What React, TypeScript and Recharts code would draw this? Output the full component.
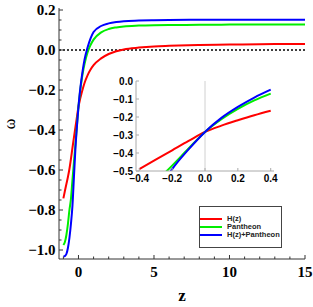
import { LineChart, Line, XAxis, YAxis, ReferenceLine, Legend } from 'recharts'

// redshift samples and equation of state
const zValues = [-1, -0.9, -0.8, -0.7, -0.6, -0.5, -0.4, -0.3, -0.2, -0.1, 0, 0.1, 0.2, 0.3, 0.4, 0.6, 0.8, 1, 1.5, 2, 2.5, 3, 4, 5, 6, 8, 10, 12, 15]
const omegaHz = [-0.742, -0.705, -0.67, -0.635, -0.595, -0.545, -0.49, -0.437, -0.385, -0.333, -0.283, -0.248, -0.218, -0.19, -0.165, -0.127, -0.098, -0.076, -0.042, -0.02, -0.006, 0.003, 0.012, 0.018, 0.021, 0.025, 0.027, 0.029, 0.03]
const omegaPantheon = [-0.975, -0.96, -0.925, -0.87, -0.8, -0.745, -0.65, -0.56, -0.47, -0.375, -0.283, -0.212, -0.155, -0.108, -0.07, -0.012, 0.025, 0.052, 0.088, 0.105, 0.113, 0.118, 0.122, 0.124, 0.125, 0.126, 0.127, 0.127, 0.127]
const omegaJoint = [-1.033, -1.03, -1.02, -0.99, -0.94, -0.87, -0.78, -0.635, -0.49, -0.38, -0.283, -0.205, -0.144, -0.092, -0.048, 0.012, 0.058, 0.09, 0.12, 0.133, 0.14, 0.144, 0.147, 0.149, 0.15, 0.151, 0.151, 0.151, 0.151]

const seriesNames = ['H(z)', 'Pantheon', 'H(z)+Pantheon']
const mainXLabels = [0, 5, 10, 15]
const mainYLabels = [0.2, 0, -0.2, -0.4, -0.6, -0.8, -1]
const insetXLabels = [-0.4, -0.2, 0, 0.2, 0.4]
const insetYLabels = [0, -0.1, -0.2, -0.3, -0.4, -0.5]

const data = zValues.map((z, i) => ({ z, hz: omegaHz[i], pantheon: omegaPantheon[i], joint: omegaJoint[i] }))
const insetData = data.filter((d) => d.z >= -0.4 && d.z <= 0.4)

// minor tick positions for the frame
const mainXTicks = Array.from({ length: 17 }, (_, i) => i - 1)
const mainYTicks = Array.from({ length: 25 }, (_, i) => +(-1 + i * 0.05).toFixed(2))

const serif = { fill: '#000', fontFamily: '"Liberation Serif", serif', fontWeight: 'bold' as const, fontSize: 15 }
const sans = { fill: '#000', fontFamily: '"Liberation Sans", Arial, sans-serif', fontWeight: 'bold' as const, fontSize: 10 }

const near = (v: number, list: number[]) => list.some((t) => Math.abs(t - v) < 1e-6)
const fmt1 = (v: number) => (Math.abs(v) < 1e-9 ? '0.0' : v.toFixed(1).replace('-', '\u2212'))
const fmt0 = (v: number) => String(v).replace('-', '\u2212')

function YTick(props: any) {
  const { x, y, payload, majors, side, gap, color, font, fmt, major = 5, minor = 3 } = props
  const v = payload.value
  const isMajor = near(v, majors)
  const ax = side === 'left' ? x + gap : x
  const dir = side === 'left' ? 1 : -1
  return (
    <g>
      <line x1={ax} x2={ax + dir * (isMajor ? major : minor)} y1={y} y2={y} stroke={color} />
      {font && isMajor && (
        <text x={x} y={y} dy="0.36em" textAnchor="end" style={font}>
          {fmt(v)}
        </text>
      )}
    </g>
  )
}

function XTick(props: any) {
  const { x, y, payload, majors, side, gap, color, font, fmt, major = 5, minor = 3 } = props
  const v = payload.value
  const isMajor = near(v, majors)
  const ay = side === 'bottom' ? y - gap : y
  const dir = side === 'bottom' ? -1 : 1
  return (
    <g>
      <line x1={x} x2={x} y1={ay} y2={ay + dir * (isMajor ? major : minor)} stroke={color} />
      {font && isMajor && (
        <text x={x} y={y} dy="0.71em" textAnchor="middle" style={font}>
          {fmt(v)}
        </text>
      )}
    </g>
  )
}

function LegendBox({ payload }: any) {
  const items = [...(payload || [])].sort((a: any, b: any) => seriesNames.indexOf(a.value) - seriesNames.indexOf(b.value))
  return (
    <div style={{ width: 83, height: 42, border: '1px solid #444', boxSizing: 'border-box', background: '#fff', display: 'flex', flexDirection: 'column', justifyContent: 'center' }}>
      {items.map((p: any) => (
        <div key={p.value} style={{ display: 'flex', alignItems: 'center', height: 8 }}>
          <span style={{ width: 22, height: 2, background: p.color, marginRight: 5 }} />
          <span style={{ fontFamily: '"Liberation Sans", Arial, sans-serif', fontWeight: 'bold', fontSize: 7.5, lineHeight: '8px', color: '#222', whiteSpace: 'nowrap' }}>{p.value}</span>
        </div>
      ))}
    </div>
  )
}

const frame = '#333'
const insetFrame = '#aaa'

export default function App() {
  return (
    <div style={{ position: 'absolute', left: 0, top: 0, width: 313, height: 307, background: '#fff' }}>
      <LineChart width={313} height={307} data={data} margin={{ top: 8, right: 8, bottom: 4, left: 0 }}>
        <XAxis
          dataKey="z" type="number" domain={[-1.29, 15]} allowDataOverflow ticks={mainXTicks} interval={0}
          height={44} tickSize={0} tickMargin={7} tickLine={false} axisLine={{ stroke: frame }}
          tick={<XTick majors={mainXLabels} side="bottom" gap={7} color={frame} font={serif} fmt={fmt0} major={4} minor={2.5} />}
          label={{ value: 'z', position: 'insideBottom', offset: 2.5, style: { ...serif, fontSize: 17 } }}
        />
        <XAxis
          xAxisId="top" orientation="top" type="number" domain={[-1.29, 15]} allowDataOverflow ticks={mainXTicks} interval={0}
          height={0} tickSize={0} tickMargin={0} tickLine={false} axisLine={{ stroke: frame }}
          tick={<XTick majors={mainXLabels} side="top" gap={0} color={frame} major={4} minor={2.5} />}
        />
        <YAxis
          type="number" domain={[-1.045, 0.21]} allowDataOverflow ticks={mainYTicks} interval={0}
          width={59} tickSize={0} tickMargin={3.5} tickLine={false} axisLine={{ stroke: frame }}
          tick={<YTick majors={mainYLabels} side="left" gap={3.5} color={frame} font={serif} fmt={fmt1} major={4} minor={2.5} />}
          label={{
            content: ({ viewBox }: any) => {
              const cx = viewBox.x + 10
              const cy = viewBox.y + viewBox.height / 2 - 9.5
              return (
                <text x={cx} y={cy} transform={`rotate(-90 ${cx} ${cy})`} textAnchor="middle" dy="0.3em" style={{ fill: '#000', fontFamily: '"Liberation Serif", serif', fontSize: 16 }}>
                  ω
                </text>
              )
            },
          }}
        />
        <YAxis
          yAxisId="right" orientation="right" type="number" domain={[-1.045, 0.21]} allowDataOverflow ticks={mainYTicks} interval={0}
          width={0} tickSize={0} tickMargin={0} tickLine={false} axisLine={{ stroke: frame }}
          tick={<YTick majors={mainYLabels} side="right" gap={0} color={frame} major={4} minor={2.5} />}
        />
        <ReferenceLine y={0} stroke="#000" strokeWidth={1.6} strokeDasharray="2 2" />
        <Line type="monotone" dataKey="hz" name={seriesNames[0]} stroke="#ff0000" strokeWidth={2} dot={false} isAnimationActive={false} />
        <Line type="monotone" dataKey="pantheon" name={seriesNames[1]} stroke="#00ee00" strokeWidth={2} dot={false} isAnimationActive={false} />
        <Line type="monotone" dataKey="joint" name={seriesNames[2]} stroke="#0000ff" strokeWidth={2} dot={false} isAnimationActive={false} />
        <Legend layout="vertical" align="center" verticalAlign="middle" content={<LegendBox />} wrapperStyle={{ left: 199, top: 206, width: 83 }} />
      </LineChart>

      <div style={{ position: 'absolute', left: 95, top: 73, width: 184, height: 118, background: '#fff' }}>
        <LineChart width={184} height={118} data={insetData} margin={{ top: 8, right: 5, bottom: 0, left: 0 }}>
          <XAxis
            dataKey="z" type="number" domain={[-0.42, 0.42]} allowDataOverflow ticks={insetXLabels} interval={0}
            height={20} tickSize={0} tickMargin={4} tickLine={false} axisLine={{ stroke: insetFrame }}
            tick={<XTick majors={insetXLabels} side="bottom" gap={4} color={insetFrame} font={sans} fmt={fmt1} major={3} minor={2} />}
          />
          <XAxis
            xAxisId="top" orientation="top" type="number" domain={[-0.42, 0.42]} allowDataOverflow ticks={insetXLabels} interval={0}
            height={0} tickSize={0} tickMargin={0} tickLine={false} axisLine={{ stroke: insetFrame }}
            tick={<XTick majors={insetXLabels} side="top" gap={0} color={insetFrame} major={3} minor={2} />}
          />
          <YAxis
            type="number" domain={[-0.5, 0]} allowDataOverflow ticks={insetYLabels} interval={0}
            width={41} tickSize={0} tickMargin={3} tickLine={false} axisLine={{ stroke: insetFrame }}
            tick={<YTick majors={insetYLabels} side="left" gap={3} color={insetFrame} font={sans} fmt={fmt1} major={3} minor={2} />}
          />
          <YAxis
            yAxisId="right" orientation="right" type="number" domain={[-0.5, 0]} allowDataOverflow ticks={insetYLabels} interval={0}
            width={0} tickSize={0} tickMargin={0} tickLine={false} axisLine={{ stroke: insetFrame }}
            tick={<YTick majors={insetYLabels} side="right" gap={0} color={insetFrame} major={3} minor={2} />}
          />
          <ReferenceLine x={0} stroke="#d0d0d0" strokeWidth={1} />
          <Line type="monotone" dataKey="hz" stroke="#ff0000" strokeWidth={2} dot={false} isAnimationActive={false} legendType="none" />
          <Line type="monotone" dataKey="pantheon" stroke="#00ee00" strokeWidth={2} dot={false} isAnimationActive={false} legendType="none" />
          <Line type="monotone" dataKey="joint" stroke="#0000ff" strokeWidth={2} dot={false} isAnimationActive={false} legendType="none" />
        </LineChart>
      </div>
    </div>
  )
}
